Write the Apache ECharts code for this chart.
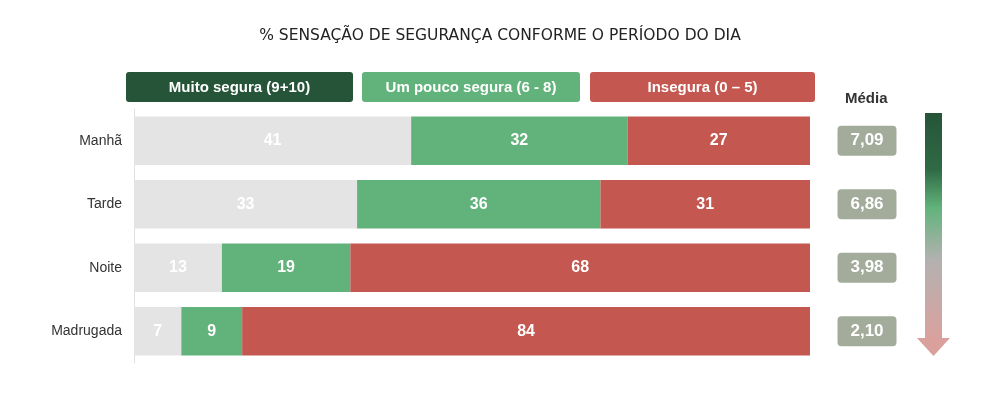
<!DOCTYPE html>
<html><head><meta charset="utf-8">
<script src="https://cdn.jsdelivr.net/npm/echarts@6/dist/echarts.min.js"></script>
<style>html,body{margin:0;padding:0;background:#fff}#c{width:1000px;height:396px}</style>
</head><body><div id="c"></div>
<script>
const categories = ['Manhã', 'Tarde', 'Noite', 'Madrugada'];
const muitoSegura = [41, 33, 13, 7];
const umPoucoSegura = [32, 36, 19, 9];
const insegura = [27, 31, 68, 84];
const media = ['7,09', '6,86', '3,98', '2,10'];
const seriesNames = ['Muito segura (9+10)', 'Um pouco segura (6 - 8)', 'Insegura (0 – 5)'];
const title = '% SENSAÇÃO DE SEGURANÇA CONFORME O PERÍODO DO DIA';

const chart = echarts.init(document.getElementById('c'));
const lbl = {show: true, position: 'inside', color: '#fff', fontWeight: 'bold', fontSize: 16, fontFamily: 'Liberation Sans, Arial, sans-serif'};
function legendBox(x, w, color, text) {
  return {type: 'group', left: x, top: 72, children: [
    {type: 'rect', shape: {x: 0, y: 0, width: w, height: 30, r: 3}, style: {fill: color}},
    {type: 'text', style: {x: w / 2, y: 16, text: text, fill: '#fff', fontSize: 15, fontWeight: 'bold', fontFamily: 'Liberation Sans, Arial, sans-serif', align: 'center', verticalAlign: 'middle'}}
  ]};
}
chart.setOption({
  animation: false,
  title: {text: title, left: 'center', top: 23, textStyle: {fontSize: 15.5, fontWeight: 500, color: '#222', fontFamily: 'DejaVu Sans, sans-serif'}},
  grid: {left: 134, right: 190, top: 109, bottom: 33},
  xAxis: {type: 'value', min: 0, max: 100, show: false},
  yAxis: [
    {type: 'category', data: categories, inverse: true,
     axisLine: {show: true, lineStyle: {color: '#e0e0e0'}}, axisTick: {show: false},
     axisLabel: {margin: 12, fontSize: 14, color: '#333', fontFamily: 'Liberation Sans, Arial, sans-serif'}},
    {type: 'category', data: media, inverse: true, position: 'right',
     axisLine: {show: false}, axisTick: {show: false},
     axisLabel: {margin: 57, color: '#fff', fontWeight: 'bold', fontSize: 17,
       fontFamily: 'Liberation Sans, Arial, sans-serif', backgroundColor: '#a3ab9b', borderRadius: 4,
       width: 43, align: 'center', padding: [5, 8], lineHeight: 20}}
  ],
  series: [
    {name: seriesNames[0], type: 'bar', stack: 't', data: muitoSegura, barCategoryGap: '24%', itemStyle: {color: '#e4e4e4'}, label: lbl},
    {name: seriesNames[1], type: 'bar', stack: 't', data: umPoucoSegura, itemStyle: {color: '#62b37b'}, label: lbl},
    {name: seriesNames[2], type: 'bar', stack: 't', data: insegura, itemStyle: {color: '#c4574f'}, label: lbl}
  ],
  graphic: [
    legendBox(126, 227, '#265438', seriesNames[0]),
    legendBox(362, 218, '#62b37b', seriesNames[1]),
    legendBox(590, 225, '#c4574f', seriesNames[2]),
    {type: 'text', left: 845, top: 91, style: {text: 'Média', fill: '#333', fontSize: 15, fontWeight: 'bold', fontFamily: 'Liberation Sans, Arial, sans-serif'}},
    {type: 'rect', shape: {x: 925, y: 113, width: 17, height: 226},
     style: {fill: new echarts.graphic.LinearGradient(0, 0, 0, 1, [
       {offset: 0, color: '#265438'}, {offset: 0.25, color: '#2f6a45'}, {offset: 0.42, color: '#62b37b'},
       {offset: 0.65, color: '#b3b1b0'}, {offset: 1, color: '#d9a19d'}])}},
    {type: 'polygon', shape: {points: [[917, 338], [950, 338], [933.5, 356]]}, style: {fill: '#d9a09c'}}
  ]
});
</script></body></html>
